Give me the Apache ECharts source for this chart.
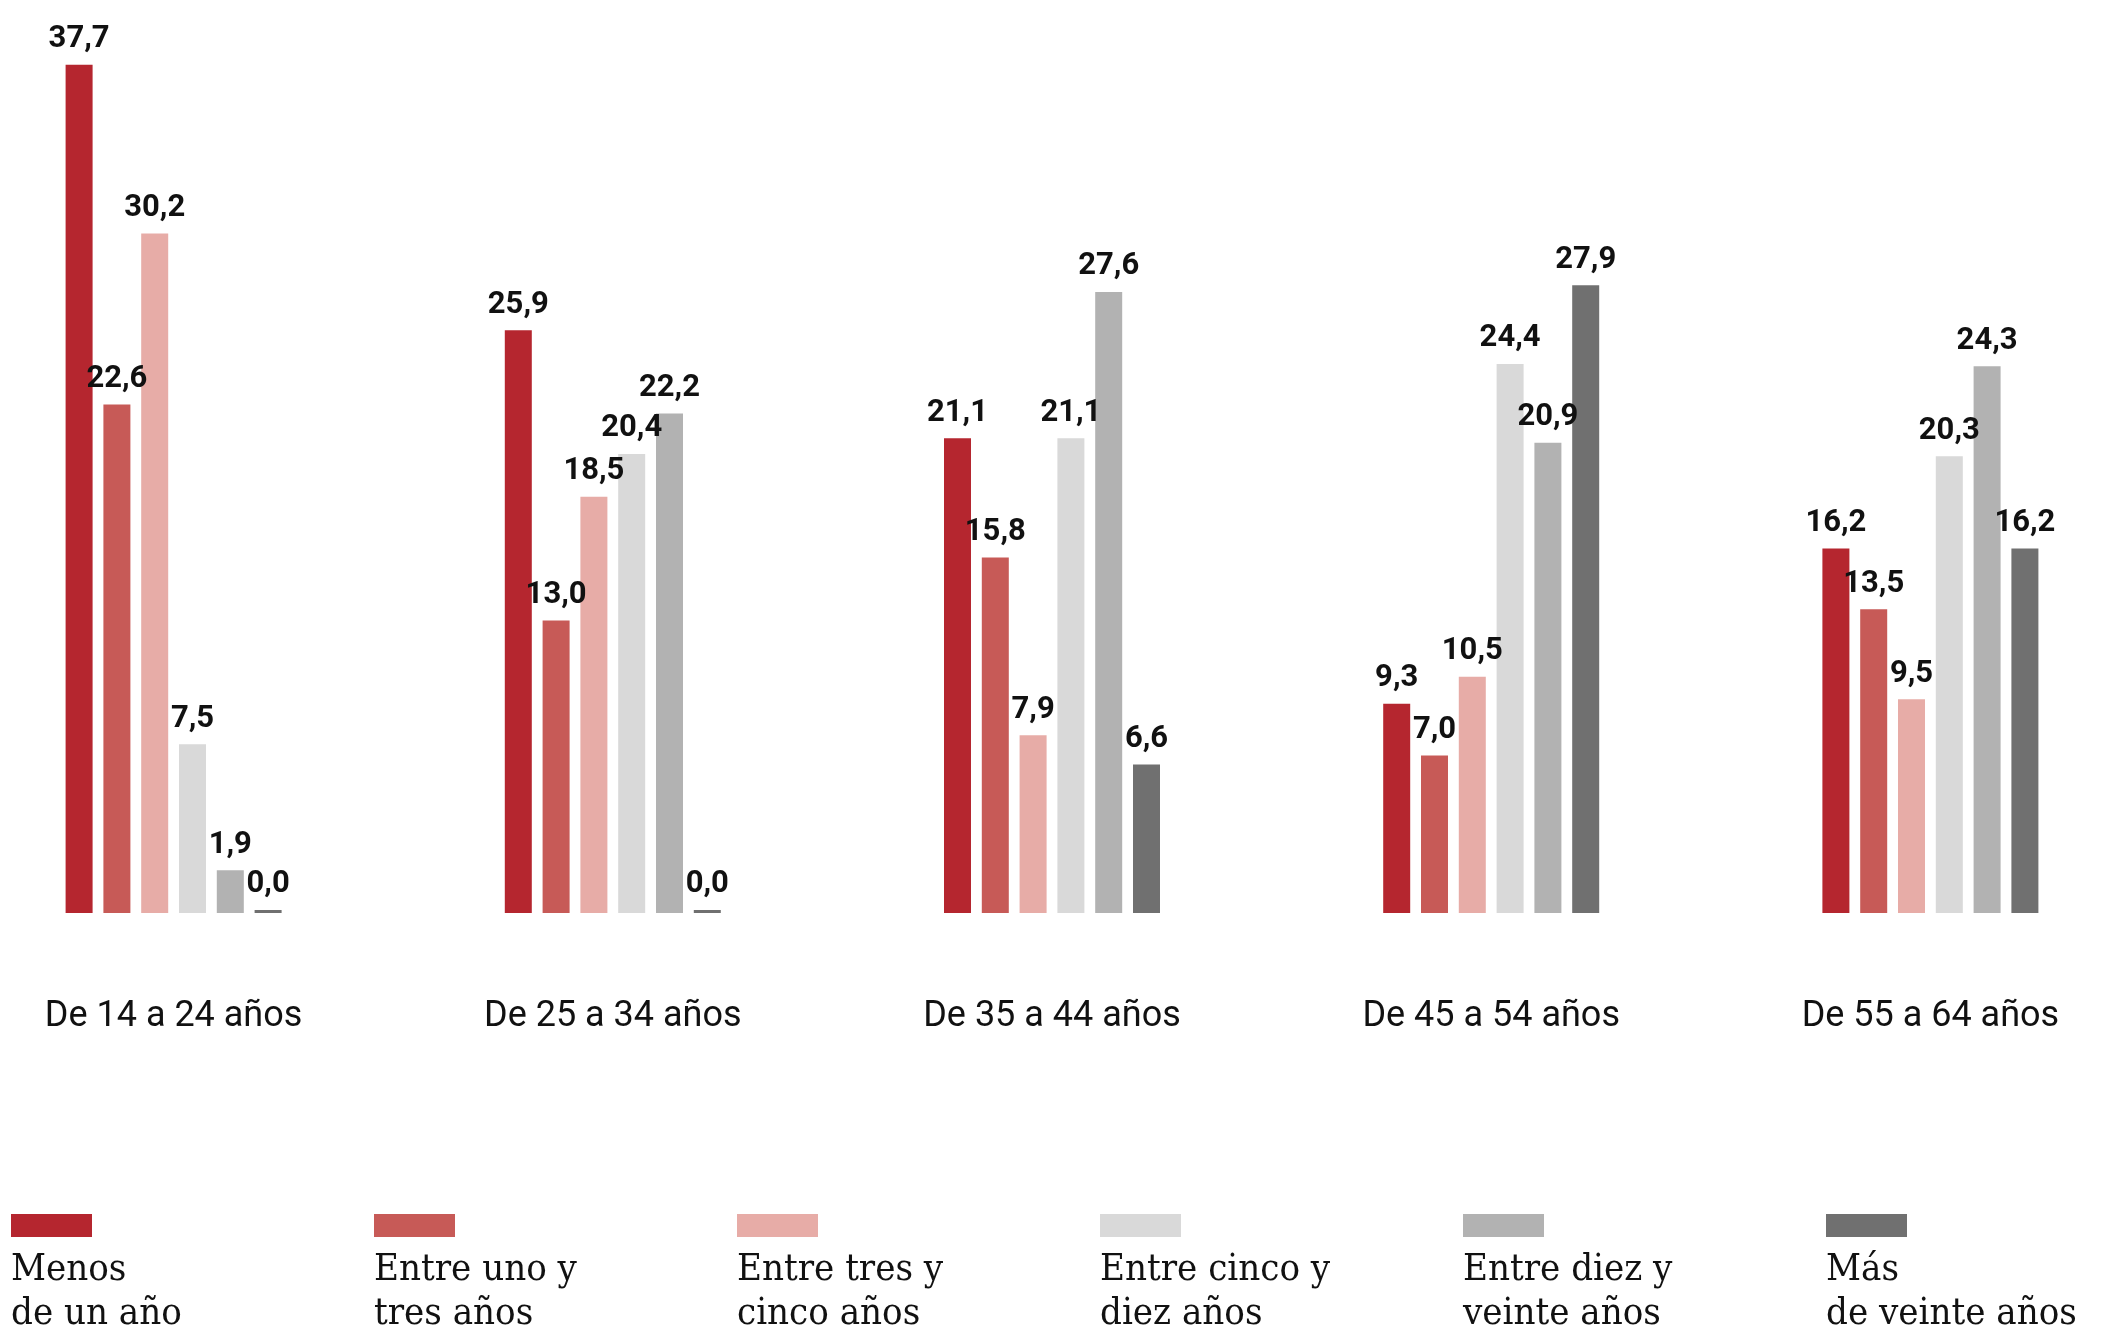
<!DOCTYPE html>
<html>
<head>
<meta charset="utf-8">
<script src="https://cdn.jsdelivr.net/npm/echarts@6/dist/echarts.min.js"></script>
<style>
  html, body { margin: 0; padding: 0; background: #fff; overflow: hidden; }
  body { width: 2121px; height: 1333px; position: relative; }
  /* Le graphique déborde un peu à gauche pour caler les groupes comme l'original */
  #graphic-barres { position: absolute; left: -46px; top: 0; width: 2196px; height: 1333px; }
</style>
</head>
<body>
<div id="graphic-barres"></div>
<script>
// Tranches d'âge (catégories)
const categories = ['De 14 a 24 años', 'De 25 a 34 años', 'De 35 a 44 años', 'De 45 a 54 años', 'De 55 a 64 años'];

// Ancienneté (séries)
const seriesNames = ['Menos de un año', 'Entre uno y tres años', 'Entre tres y cinco años',
  'Entre cinco y diez años', 'Entre diez y veinte años', 'Más de veinte años'];
const legendLines = [
  ['Menos', 'de un año'],
  ['Entre uno y', 'tres años'],
  ['Entre tres y', 'cinco años'],
  ['Entre cinco y', 'diez años'],
  ['Entre diez y', 'veinte años'],
  ['Más', 'de veinte años']
];

// Valeurs par série (une valeur par tranche d'âge)
const menosUnAno = [37.7, 25.9, 21.1, 9.3, 16.2];
const unoATres = [22.6, 13.0, 15.8, 7.0, 13.5];
const tresACinco = [30.2, 18.5, 7.9, 10.5, 9.5];
const cincoADiez = [7.5, 20.4, 21.1, 24.4, 20.3];
const diezAVeinte = [1.9, 22.2, 27.6, 20.9, 24.3];
const masDeVeinte = [0.0, 0.0, 6.6, 27.9, 16.2];

const seriesData = [menosUnAno, unoATres, tresACinco, cincoADiez, diezAVeinte, masDeVeinte];
const colors = ['#B5262F', '#C75A57', '#E7ACA7', '#D9D9D9', '#B2B2B2', '#707070'];

const dom = document.getElementById('graphic-barres');
const chart = echarts.init(dom, null, { renderer: 'canvas' });

// Styles riches pour la légende (carré au-dessus du texte)
const rich = {
  g: { height: 11, lineHeight: 11 },
  t: {
    fontFamily: 'DejaVu Serif Condensed',
    fontSize: 38,
    lineHeight: 44,
    color: '#111',
    width: 300
  }
};
colors.forEach((c, i) => {
  rich['s' + i] = { backgroundColor: c, width: 81, height: 23, lineHeight: 23 };
});

const option = {
  animation: false,
  color: colors,
  grid: { left: 0, width: 2196, top: 13, height: 900 },
  legend: {
    data: seriesNames,
    left: 52,
    top: 1214,
    padding: 0,
    icon: 'rect',
    itemWidth: 0,
    itemHeight: 0,
    itemGap: 58,
    selectedMode: false,
    formatter: function(name) {
      const i = seriesNames.indexOf(name);
      return '{s' + i + '| }\n{g| }\n{t|' + legendLines[i][0] + '}\n{t|' + legendLines[i][1] + '}';
    },
    textStyle: { rich: rich }
  },
  xAxis: {
    type: 'category',
    data: categories,
    axisLine: { show: false },
    axisTick: { show: false },
    axisLabel: {
      margin: 86,
      fontFamily: 'Roboto',
      fontSize: 36,
      color: '#111'
    }
  },
  yAxis: {
    type: 'value',
    min: 0,
    max: 40,
    show: false,
    splitLine: { show: false }
  },
  series: seriesData.map((d, i) => ({
    name: seriesNames[i],
    type: 'bar',
    data: d,
    barWidth: 27,
    barGap: '40%',
    barMinHeight: 3,
    itemStyle: { color: colors[i] },
    label: {
      show: true,
      position: 'top',
      distance: 10,
      fontFamily: 'Roboto',
      fontWeight: 'bold',
      fontSize: 31,
      color: '#111',
      formatter: p => p.value.toFixed(1).replace('.', ',')
    }
  }))
};

chart.setOption(option);
window.addEventListener('resize', chart.resize);
</script>
</body>
</html>
